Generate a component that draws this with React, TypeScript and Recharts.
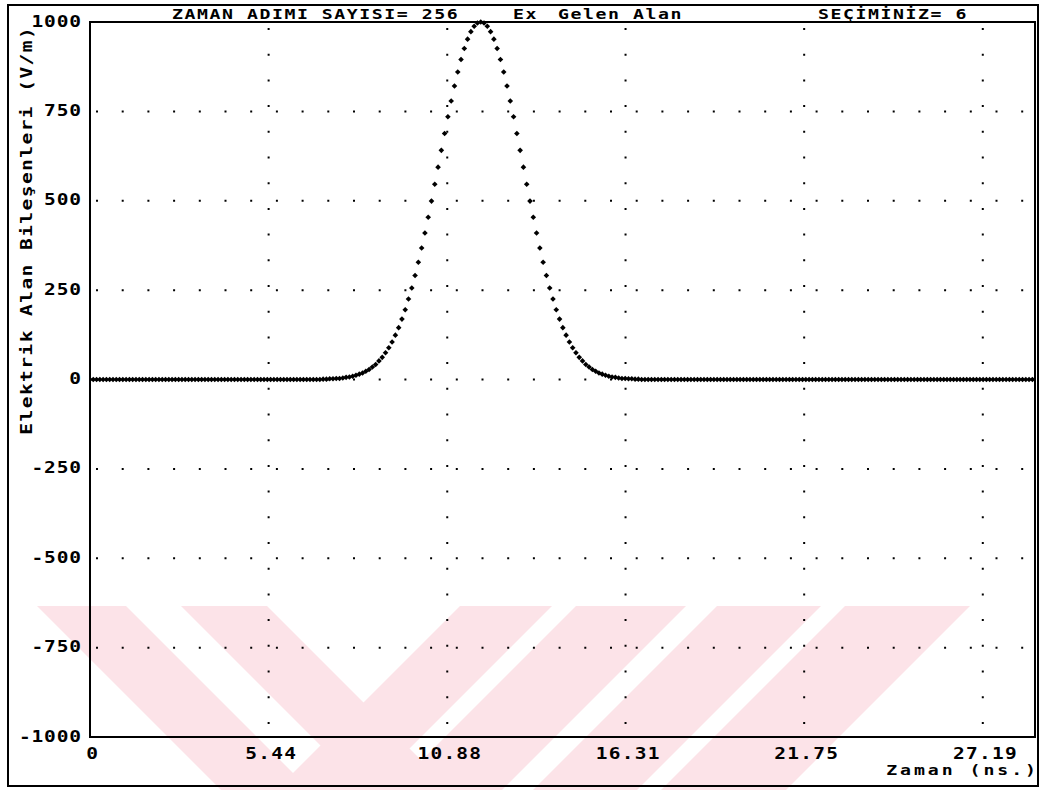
import { ScatterChart, Scatter, XAxis, YAxis, CartesianGrid, ReferenceArea } from "recharts";

// time step between samples (ns)
const dtNs = 0.1;

// Ex incident field (V/m), one value per time step
const fieldValues = [
  0, 0, 0, 0, 0, 0, 0, 0, 0, 0,
  0, 0, 0, 0, 0, 0, 0, 0, 0, 0,
  0, 0, 0, 0, 0, 0, 0, 0, 0, 0,
  0, 0, 0, 0, 0, 0, 0, 0, 0, 0,
  0, 0, 0, 0, 0, 0, 0, 0, 0, 0,
  0, 0, 0, 0, 0, 0, 0, 0, 0, 0,
  0, 0, 0, 0, 0, 0, 0, 0, 0, 0,
  0,
  1, 1, 2, 2, 3, 3, 4, 6, 7, 9,
  12, 15, 18, 23, 28, 35, 42, 52, 62, 75,
  89, 105, 124, 145, 169, 195, 225, 256, 291, 328,
  368, 410, 454, 499, 546, 594, 641, 688, 735, 779,
  821, 860, 895, 926, 952, 973, 988, 997, 1000,
  997, 988, 973, 952, 926, 895, 860, 821, 779, 735,
  688, 641, 594, 546, 499, 454, 410, 368, 328, 291,
  256, 225, 195, 169, 145, 124, 105, 89, 75, 62,
  52, 42, 35, 28, 23, 18, 15, 12, 9, 7,
  6, 4, 3, 3, 2, 2, 1, 1,
  0, 0, 0, 0, 0, 0, 0, 0, 0, 0,
  0, 0, 0, 0, 0, 0, 0, 0, 0, 0,
  0, 0, 0, 0, 0, 0, 0, 0, 0, 0,
  0, 0, 0, 0, 0, 0, 0, 0, 0, 0,
  0, 0, 0, 0, 0, 0, 0, 0, 0, 0,
  0, 0, 0, 0, 0, 0, 0, 0, 0, 0,
  0, 0, 0, 0, 0, 0, 0, 0, 0, 0,
  0, 0, 0, 0, 0, 0, 0, 0, 0, 0,
  0, 0, 0, 0, 0, 0, 0, 0, 0, 0,
  0, 0, 0, 0, 0, 0, 0, 0, 0, 0,
  0, 0, 0, 0, 0, 0, 0, 0, 0, 0,
  0, 0, 0, 0, 0, 0, 0, 0, 0, 0,
];

const xTicks = [0, 5.44, 10.88, 16.31, 21.75, 27.19];
const xMax = 28.78;
const yTicks = [-1000, -750, -500, -250, 0, 250, 500, 750, 1000];

const points = fieldValues.map((v, i) => ({ t: i * dtNs, e: v }));

const FONT = "'DejaVu Sans Mono', monospace";
const SX = 1.3; // widen glyphs to look like the old DOS font

// text with wide glyphs, each char taking `cell` px
const WideText = ({ x, y, size, cell, anchor = "start", rotate = 0, children }: any) => {
  const ls = cell / SX - 0.602 * size;
  return (
    <g transform={`translate(${x},${y}) rotate(${rotate}) scale(${SX},1)`}>
      <text
        x={anchor === "end" ? ls : anchor === "middle" ? ls / 2 : 0}
        y={0}
        textAnchor={anchor}
        fontFamily={FONT}
        fontWeight="bold"
        fontSize={size}
        letterSpacing={ls}
        fill="#000"
      >
        {children}
      </text>
    </g>
  );
};

const Marker = (props: any) => {
  const { cx, cy } = props;
  const r = 2.8;
  return <path d={`M${cx},${cy - r}L${cx + r},${cy}L${cx},${cy + r}L${cx - r},${cy}Z`} fill="#000" />;
};

const YTick = ({ x, y, payload }: any) => (
  <WideText x={x - 7} y={y + 4.5} size={15} cell={12.6} anchor="end">
    {payload.value}
  </WideText>
);

const XTick = ({ x, y, payload }: any) => (
  <WideText x={x + 2} y={y + 20} size={15} cell={13} anchor="middle">
    {payload.value}
  </WideText>
);

const App = () => {
  return (
    <div style={{ position: "absolute", left: 0, top: 0, width: 1040, height: 790, background: "#fff" }}>
      <svg width={1040} height={790} style={{ position: "absolute", left: 0, top: 0 }}>
        {/* faint watermark */}
        <g fill="#fce3e8">
          <polygon points="37,606 126,606 310,790 221,790" />
          <polygon points="181,606 267,606 451,790 365,790" />
          <polygon points="460,606 552,606 368,790 276,790" />
          <polygon points="576,606 686,606 502,790 392,790" />
          <polygon points="717,606 821,606 637,790 533,790" />
          <polygon points="845,606 970,606 786,790 661,790" />
        </g>
        <rect x={8} y={5} width={1030} height={781} fill="none" stroke="#000" strokeWidth={2} />
        <WideText x={172} y={18.5} size={14} cell={12.5}>ZAMAN ADIMI SAYISI= 256</WideText>
        <WideText x={513} y={18.5} size={14} cell={12.5}>Ex</WideText>
        <WideText x={558} y={18.5} size={14} cell={12.5}>Gelen Alan</WideText>
        <WideText x={818} y={18.5} size={14} cell={12.5}>SEÇİMİNİZ= 6</WideText>
        <WideText x={32} y={231} size={15} cell={13.2} anchor="middle" rotate={-90}>
          Elektrik Alan Bileşenleri (V/m)
        </WideText>
        <WideText x={1036} y={775} size={14} cell={13.9} anchor="end">
          Zaman (ns.)
        </WideText>
      </svg>
      <div style={{ position: "absolute", left: 0, top: 0 }}>
        <ScatterChart width={1040} height={790} margin={{ top: 22, right: 5, bottom: 0, left: 0 }}>
          <CartesianGrid stroke="#000" strokeWidth={2} strokeDasharray="2 23.7" strokeDashoffset={-6} />
          <XAxis
            dataKey="t"
            type="number"
            domain={[0, xMax]}
            ticks={xTicks}
            height={53}
            axisLine={false}
            tickLine={false}
            tickSize={0}
            tick={<XTick />}
            interval={0}
            allowDataOverflow
          />
          <YAxis
            dataKey="e"
            type="number"
            domain={[-1000, 1000]}
            ticks={yTicks}
            width={90}
            axisLine={false}
            tickLine={false}
            tickSize={0}
            tick={<YTick />}
            interval={0}
          />
          <ReferenceArea x1={0} x2={xMax} y1={-1000} y2={1000} fill="none" stroke="#000" strokeWidth={2} />
          <Scatter data={points} dataKey="e" shape={<Marker />} isAnimationActive={false} />
        </ScatterChart>
      </div>
    </div>
  );
};

export default App;
